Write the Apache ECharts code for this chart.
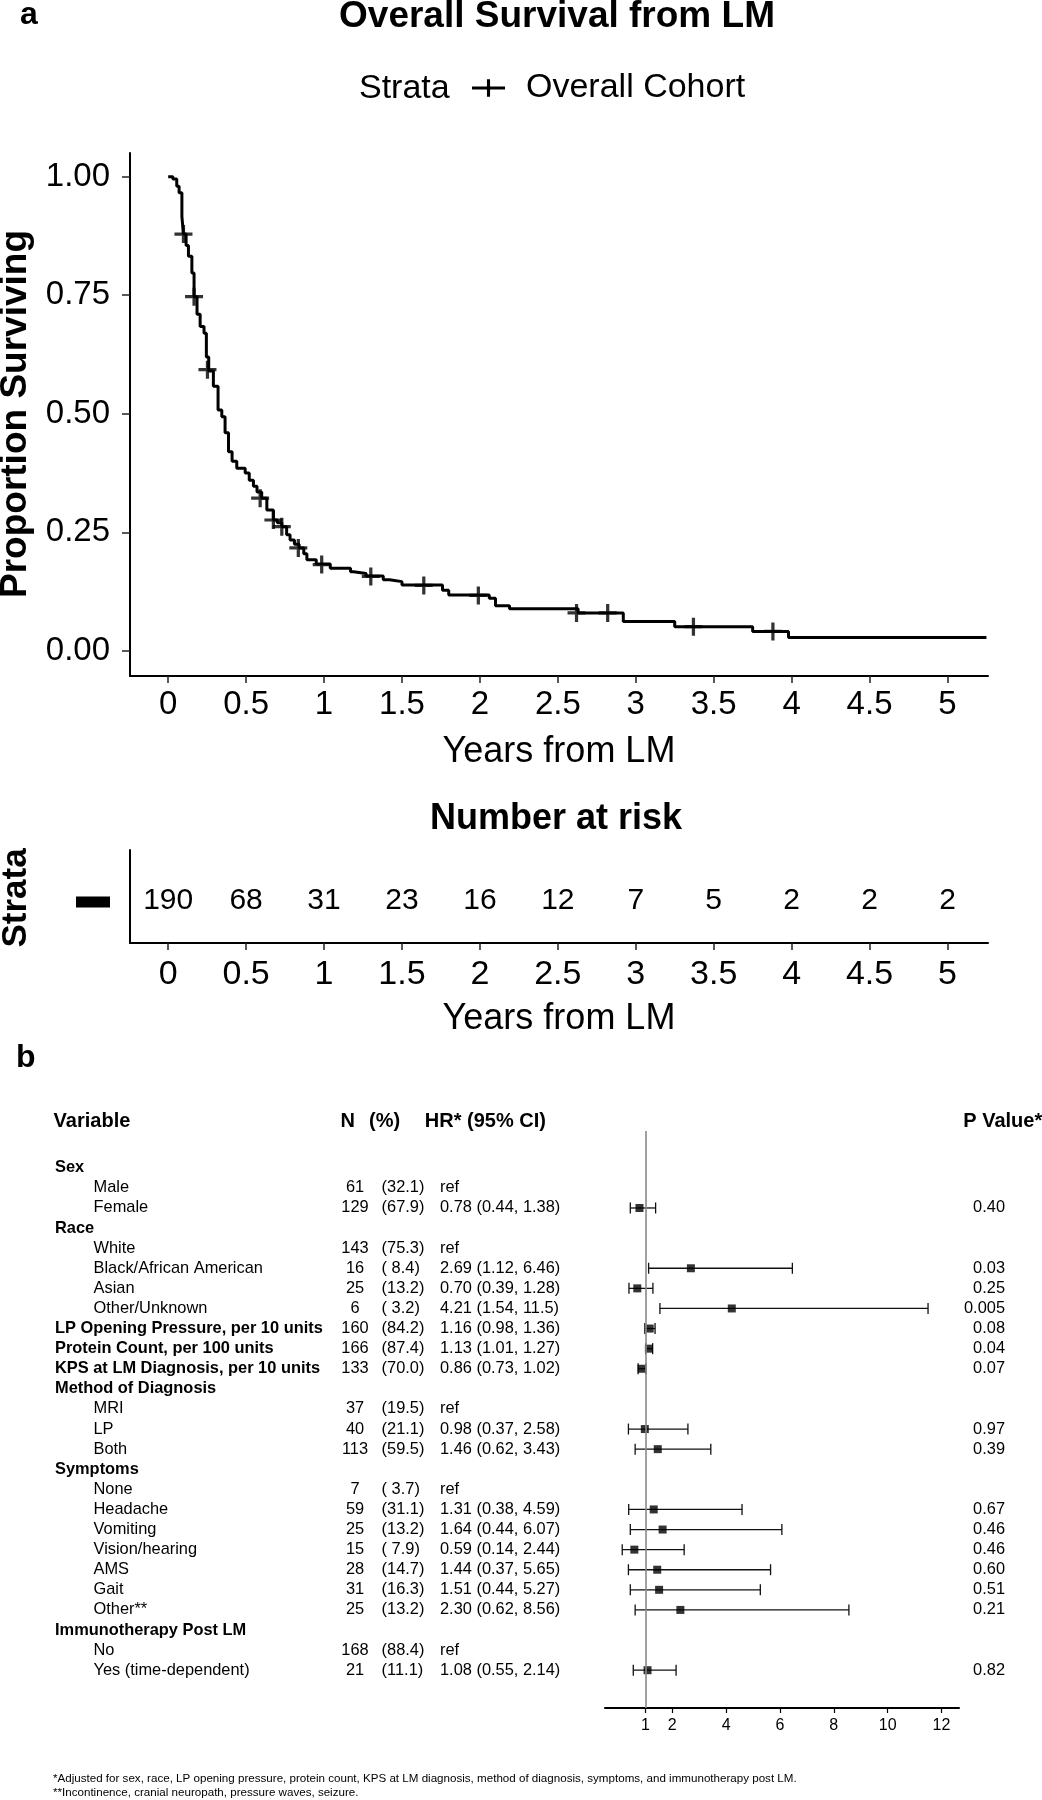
<!DOCTYPE html>
<html>
<head>
<meta charset="utf-8">
<script src="https://cdn.jsdelivr.net/npm/echarts@6/dist/echarts.min.js"></script>
<style>
html,body{margin:0;padding:0;background:#fff;}
#chart{width:1042px;height:1800px;}
</style>
</head>
<body>
<div id="chart"></div>
<script>
// ---------- Data ----------
// Kaplan-Meier step curve: time (years) and survival after each drop
const kmTime = [0, 0.03, 0.055, 0.07, 0.088, 0.098, 0.115, 0.13, 0.152, 0.166, 0.185, 0.205, 0.23, 0.245, 0.26, 0.29, 0.32, 0.344, 0.365, 0.387, 0.41, 0.44, 0.494, 0.52, 0.547, 0.57, 0.60, 0.633, 0.675, 0.70, 0.729, 0.76, 0.782, 0.81, 0.84, 0.87, 0.89, 0.95, 1.04, 1.17, 1.19, 1.27, 1.38, 1.42, 1.50, 1.76, 1.80, 2.06, 2.10, 2.19, 2.63, 2.92, 3.25, 3.75, 3.98, 5.25];
const kmSurv = [1.0, 0.995, 0.98, 0.966, 0.916, 0.879, 0.855, 0.832, 0.797, 0.747, 0.71, 0.684, 0.67, 0.62, 0.59, 0.558, 0.508, 0.494, 0.46, 0.42, 0.40, 0.385, 0.375, 0.36, 0.347, 0.335, 0.322, 0.297, 0.276, 0.27, 0.262, 0.245, 0.234, 0.225, 0.217, 0.205, 0.192, 0.183, 0.174, 0.167, 0.163, 0.158, 0.15, 0.146, 0.139, 0.128, 0.118, 0.111, 0.095, 0.089, 0.08, 0.062, 0.051, 0.041, 0.028, 0.028];
// censor marks
const censorTime = [0.098, 0.166, 0.252, 0.59, 0.675, 0.729, 0.835, 0.985, 1.30, 1.64, 1.99, 2.62, 2.82, 3.37, 3.88];
const censorSurv = [0.879, 0.747, 0.593, 0.322, 0.276, 0.262, 0.217, 0.182, 0.157, 0.138, 0.117, 0.08, 0.08, 0.051, 0.041];
const yearTicks = [0, 0.5, 1, 1.5, 2, 2.5, 3, 3.5, 4, 4.5, 5];
const survTicks = [0, 0.25, 0.5, 0.75, 1];
// number at risk
const riskCounts = [190, 68, 31, 23, 16, 12, 7, 5, 2, 2, 2];
const strataName = 'Overall Cohort';

// Forest plot (panel b)
const varLabels = ['Sex', 'Male', 'Female', 'Race', 'White', 'Black/African American', 'Asian', 'Other/Unknown',
  'LP Opening Pressure, per 10 units', 'Protein Count, per 100 units', 'KPS at LM Diagnosis, per 10 units',
  'Method of Diagnosis', 'MRI', 'LP', 'Both', 'Symptoms', 'None', 'Headache', 'Vomiting', 'Vision/hearing',
  'AMS', 'Gait', 'Other**', 'Immunotherapy Post LM', 'No', 'Yes (time-dependent)'];
const rowKind = ['h','i','i','h','i','i','i','i','h','h','h','h','i','i','i','h','i','i','i','i','i','i','i','h','i','i'];
const nVals = ['', '61', '129', '', '143', '16', '25', '6', '160', '166', '133', '', '37', '40', '113', '', '7', '59', '25', '15', '28', '31', '25', '', '168', '21'];
const pctVals = ['', '(32.1)', '(67.9)', '', '(75.3)', '( 8.4)', '(13.2)', '( 3.2)', '(84.2)', '(87.4)', '(70.0)', '', '(19.5)', '(21.1)', '(59.5)', '', '( 3.7)', '(31.1)', '(13.2)', '( 7.9)', '(14.7)', '(16.3)', '(13.2)', '', '(88.4)', '(11.1)'];
const hrVals = [null, 'ref', 0.78, null, 'ref', 2.69, 0.70, 4.21, 1.16, 1.13, 0.86, null, 'ref', 0.98, 1.46, null, 'ref', 1.31, 1.64, 0.59, 1.44, 1.51, 2.30, null, 'ref', 1.08];
const hrLow = [null, null, 0.44, null, null, 1.12, 0.39, 1.54, 0.98, 1.01, 0.73, null, null, 0.37, 0.62, null, null, 0.38, 0.44, 0.14, 0.37, 0.44, 0.62, null, null, 0.55];
const hrHigh = [null, null, 1.38, null, null, 6.46, 1.28, 11.5, 1.36, 1.27, 1.02, null, null, 2.58, 3.43, null, null, 4.59, 6.07, 2.44, 5.65, 5.27, 8.56, null, null, 2.14];
const pVals = ['', '', '0.40', '', '', '0.03', '0.25', '0.005', '0.08', '0.04', '0.07', '', '', '0.97', '0.39', '', '', '0.67', '0.46', '0.46', '0.60', '0.51', '0.21', '', '', '0.82'];
const hrTicks = [1, 2, 4, 6, 8, 10, 12];

// ---------- Build ----------
const FONT = '"Liberation Sans", Arial, Helvetica, sans-serif';
const rowIdx = varLabels.map((_, i) => i);
const fmtNum = v => (v >= 10 ? v.toFixed(1) : v.toFixed(2));
const hrText = hrVals.map((v, i) => v === null ? '' : (v === 'ref' ? 'ref' : fmtNum(v) + ' (' + fmtNum(hrLow[i]) + ', ' + fmtNum(hrHigh[i]) + ')'));

const kmData = kmTime.map((t, i) => [t, kmSurv[i]]);
const censorData = censorTime.map((t, i) => [t, censorSurv[i]]);
const riskData = yearTicks.map((t, i) => [t, strataName, riskCounts[i]]);
const whiskerData = [], squareData = [];
rowIdx.forEach(i => {
  if (typeof hrVals[i] === 'number') {
    whiskerData.push([hrLow[i], hrHigh[i], i]);
    squareData.push([hrVals[i], i]);
  }
});

const plusPath = 'path://M8.2,0 h3.6 v8.2 h8.2 v3.6 h-8.2 v8.2 h-3.6 v-8.2 h-8.2 v-3.6 h8.2 z';
const legendIcon = 'path://M0,7.4 h15.4 v-7.4 h3.2 v7.4 h15.4 v3.2 h-15.4 v7.4 h-3.2 v-7.4 h-15.4 z';

const blackLine = { color: '#000', width: 2 };
const rowsMin = -1.83, rowsMax = 26.88;
const forestRect = { left: 605, top: 1131, width: 354, height: 577, outerBoundsMode: 'none' };

function forestY(gridIndex, margin, align, labelCfg, position) {
  return {
    type: 'value', gridIndex: gridIndex, min: rowsMin, max: rowsMax, inverse: true,
    position: position || 'left',
    axisLine: { show: false, onZero: false }, axisTick: { show: false }, splitLine: { show: false },
    axisLabel: Object.assign({
      customValues: rowIdx, margin: margin, align: align, color: '#000',
      fontFamily: FONT, fontSize: 16.4
    }, labelCfg)
  };
}
function hiddenX(gridIndex) {
  return { type: 'value', gridIndex: gridIndex, min: 0, max: 1, show: false };
}

const option = {
  animation: false,
  backgroundColor: '#fff',
  textStyle: { fontFamily: FONT },
  legend: {
    data: [{ name: strataName, icon: legendIcon }],
    left: 472, top: 71, padding: 0,
    itemWidth: 33, itemHeight: 18,
    textStyle: { fontSize: 34, color: '#000', fontFamily: FONT, padding: [0, 0, 0, 16] },
    selectedMode: false
  },
  grid: [
    { left: 130, top: 153, width: 858, height: 523, outerBoundsMode: 'none' },
    { left: 130, top: 850, width: 858, height: 93, outerBoundsMode: 'none' },
    forestRect,
    Object.assign({}, forestRect),
    Object.assign({}, forestRect),
    Object.assign({}, forestRect)
  ],
  xAxis: [
    {
      type: 'value', gridIndex: 0, min: -0.245, max: 5.26,
      axisLine: { show: true, onZero: false, lineStyle: blackLine },
      axisTick: { show: true, customValues: yearTicks, length: 7, lineStyle: { color: '#222', width: 1.5 } },
      axisLabel: { customValues: yearTicks, formatter: v => String(v), fontSize: 33, color: '#000', margin: 12, fontFamily: FONT },
      splitLine: { show: false }
    },
    {
      type: 'value', gridIndex: 1, min: -0.245, max: 5.26,
      axisLine: { show: true, onZero: false, lineStyle: blackLine },
      axisTick: { show: true, customValues: yearTicks, length: 7, lineStyle: { color: '#222', width: 1.5 } },
      axisLabel: { customValues: yearTicks, formatter: v => String(v), fontSize: 34, color: '#000', margin: 15, fontFamily: FONT },
      splitLine: { show: false }
    },
    {
      type: 'value', gridIndex: 2, min: -0.5, max: 12.65,
      axisLine: { show: true, onZero: false, lineStyle: blackLine },
      axisTick: { show: true, customValues: hrTicks, length: 5, lineStyle: { color: '#000', width: 1.2 } },
      axisLabel: { customValues: hrTicks, formatter: v => String(v), fontSize: 16, color: '#000', margin: 10, fontFamily: FONT },
      splitLine: { show: false }
    },
    hiddenX(3), hiddenX(4), hiddenX(5)
  ],
  yAxis: [
    {
      type: 'value', gridIndex: 0, min: -0.053, max: 1.05,
      axisLine: { show: true, onZero: false, lineStyle: blackLine },
      axisTick: { show: true, customValues: survTicks, length: 8, lineStyle: { color: '#222', width: 1.5 } },
      axisLabel: { customValues: survTicks, formatter: v => v.toFixed(2), fontSize: 33, color: '#000', margin: 20, fontFamily: FONT },
      splitLine: { show: false }
    },
    {
      type: 'category', gridIndex: 1, data: [strataName],
      axisLine: { show: true, onZero: false, lineStyle: blackLine },
      axisTick: { show: false },
      axisLabel: {
        margin: 20, formatter: () => '{bar|}', verticalAlign: 'top',
        rich: { bar: { width: 34, height: 11, backgroundColor: '#000' } }
      },
      splitLine: { show: false }
    },
    // variable names (grid 2)
    forestY(2, 550, 'left', {
      formatter: v => {
        const i = Math.round(v); if (i < 0 || i >= varLabels.length) return '';
        return '{' + rowKind[i] + '|' + varLabels[i] + '}';
      },
      rich: {
        h: { fontFamily: FONT, fontSize: 16.4, fontWeight: 'bold', color: '#000' },
        i: { fontFamily: FONT, fontSize: 16.4, color: '#000', padding: [0, 0, 0, 38.5] }
      }
    }),
    // P values (grid 2, right side)
    forestY(2, 46, 'right', { formatter: v => pVals[Math.round(v)] || '' }, 'right'),
    // N column
    forestY(3, 250, 'center', { formatter: v => nVals[Math.round(v)] || '' }),
    // (%) column
    forestY(4, 223.4, 'left', { formatter: v => pctVals[Math.round(v)] || '' }),
    // HR (95% CI) column
    forestY(5, 165, 'left', { formatter: v => hrText[Math.round(v)] || '' })
  ],
  series: [
    {
      name: strataName, type: 'line', xAxisIndex: 0, yAxisIndex: 0, step: 'end',
      data: kmData, showSymbol: false, symbol: 'none',
      lineStyle: { color: '#000', width: 3 }, itemStyle: { color: '#000' }, z: 3
    },
    {
      name: strataName, type: 'scatter', xAxisIndex: 0, yAxisIndex: 0,
      data: censorData, symbol: plusPath, symbolSize: 18, itemStyle: { color: '#000' }, z: 4
    },
    {
      type: 'custom', xAxisIndex: 1, yAxisIndex: 1, data: riskData,
      encode: { x: 0, y: 1 },
      renderItem: (params, api) => {
        const p = api.coord([api.value(0), api.value(1)]);
        return {
          type: 'text', x: p[0], y: p[1] + 4,
          style: { text: String(api.value(2)), fill: '#000', font: '30px ' + FONT, textAlign: 'center', textVerticalAlign: 'middle' }
        };
      }
    },
    {
      type: 'custom', xAxisIndex: 2, yAxisIndex: 2, data: whiskerData,
      encode: { x: [0, 1], y: 2 },
      renderItem: (params, api) => {
        const a = api.coord([api.value(0), api.value(2)]);
        const b = api.coord([api.value(1), api.value(2)]);
        const h = 5.5;
        const st = { stroke: '#111', lineWidth: 1.3 };
        return {
          type: 'group', children: [
            { type: 'line', shape: { x1: a[0], y1: a[1], x2: b[0], y2: b[1] }, style: st },
            { type: 'line', shape: { x1: a[0], y1: a[1] - h, x2: a[0], y2: a[1] + h }, style: st },
            { type: 'line', shape: { x1: b[0], y1: b[1] - h, x2: b[0], y2: b[1] + h }, style: st }
          ]
        };
      },
      z: 3
    },
    {
      type: 'scatter', xAxisIndex: 2, yAxisIndex: 2, data: squareData,
      symbol: 'rect', symbolSize: 8, itemStyle: { color: '#000' }, z: 4,
      markLine: {
        silent: true, symbol: ['none', 'none'], label: { show: false },
        lineStyle: { color: '#8a8a8a', width: 1.6, type: 'solid' },
        data: [{ xAxis: 1 }]
      }
    }
  ],
  graphic: [
    { type: 'text', x: 20, y: 15, style: { text: 'a', font: 'bold 32px ' + FONT, fill: '#000', textAlign: 'left', textVerticalAlign: 'middle' } },
    { type: 'text', x: 557, y: 17, style: { text: 'Overall Survival from LM', font: 'bold 37px ' + FONT, fill: '#000', textAlign: 'center', textVerticalAlign: 'middle' } },
    { type: 'text', x: 359, y: 89, style: { text: 'Strata', font: '34px ' + FONT, fill: '#000', textAlign: 'left', textVerticalAlign: 'middle' } },
    { type: 'text', x: 16, y: 414, rotation: Math.PI / 2, style: { text: 'Proportion Surviving', font: 'bold 37px ' + FONT, fill: '#000', textAlign: 'center', textVerticalAlign: 'middle' } },
    { type: 'text', x: 559, y: 752, style: { text: 'Years from LM', font: '36px ' + FONT, fill: '#000', textAlign: 'center', textVerticalAlign: 'middle' } },
    { type: 'text', x: 556, y: 819, style: { text: 'Number at risk', font: 'bold 36px ' + FONT, fill: '#000', textAlign: 'center', textVerticalAlign: 'middle' } },
    { type: 'text', x: 16, y: 898, rotation: Math.PI / 2, style: { text: 'Strata', font: 'bold 35px ' + FONT, fill: '#000', textAlign: 'center', textVerticalAlign: 'middle' } },
    { type: 'text', x: 559, y: 1019, style: { text: 'Years from LM', font: '36px ' + FONT, fill: '#000', textAlign: 'center', textVerticalAlign: 'middle' } },
    { type: 'text', x: 16, y: 1058, style: { text: 'b', font: 'bold 32px ' + FONT, fill: '#000', textAlign: 'left', textVerticalAlign: 'middle' } },
    { type: 'text', x: 53.6, y: 1121, style: { text: 'Variable', font: 'bold 20px ' + FONT, fill: '#000', textAlign: 'left', textVerticalAlign: 'middle' } },
    { type: 'text', x: 340.6, y: 1121, style: { text: 'N', font: 'bold 20px ' + FONT, fill: '#000', textAlign: 'left', textVerticalAlign: 'middle' } },
    { type: 'text', x: 369, y: 1121, style: { text: '(%)', font: 'bold 20px ' + FONT, fill: '#000', textAlign: 'left', textVerticalAlign: 'middle' } },
    { type: 'text', x: 424.8, y: 1121, style: { text: 'HR* (95% CI)', font: 'bold 20px ' + FONT, fill: '#000', textAlign: 'left', textVerticalAlign: 'middle' } },
    { type: 'text', x: 963.3, y: 1121, style: { text: 'P Value*', font: 'bold 20px ' + FONT, fill: '#000', textAlign: 'left', textVerticalAlign: 'middle' } },
    { type: 'text', x: 53, y: 1779, style: { text: '*Adjusted for sex, race, LP opening pressure, protein count, KPS at LM diagnosis, method of diagnosis, symptoms, and immunotherapy post LM.', font: '11.6px ' + FONT, fill: '#000', textAlign: 'left', textVerticalAlign: 'middle' } },
    { type: 'text', x: 53, y: 1793, style: { text: '**Incontinence, cranial neuropath, pressure waves, seizure.', font: '11.6px ' + FONT, fill: '#000', textAlign: 'left', textVerticalAlign: 'middle' } }
  ]
};

const chart = echarts.init(document.getElementById('chart'), null, { renderer: 'canvas', width: 1042, height: 1800 });
chart.setOption(option);
</script>
</body>
</html>
